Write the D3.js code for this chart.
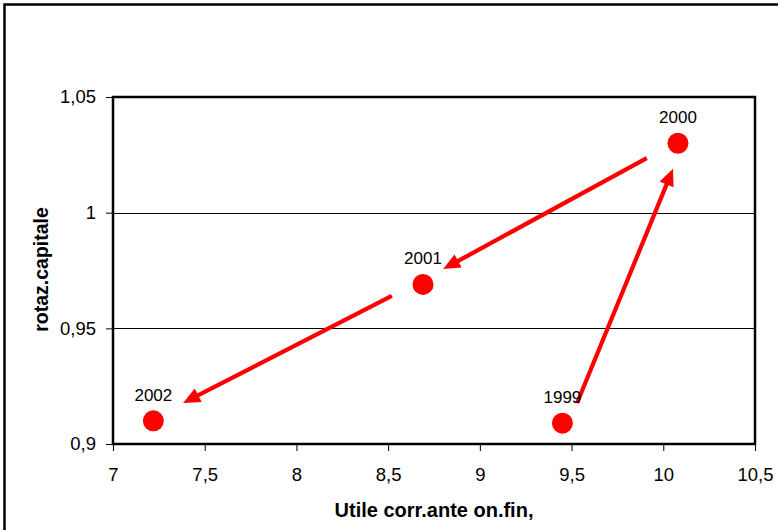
<!DOCTYPE html>
<html>
<head>
<meta charset="utf-8">
<script src="https://cdn.jsdelivr.net/npm/d3@7"></script>
<style>
  html, body { margin: 0; padding: 0; background: #fff; }
  svg { display: block; }
  text { font-family: Arial, "Liberation Sans", sans-serif; fill: #000; }
</style>
</head>
<body>
<svg id="chart" width="778" height="530"></svg>
<script>
// Yearly points: profit before financial charges vs. capital turnover
const years = ["1999", "2000", "2001", "2002"];
const utile = [9.45, 10.08, 8.69, 7.22];
const rotaz = [0.909, 1.03, 0.969, 0.91];

// Arrows showing the path from year to year (data coordinates)
const arrowFromX = [9.53, 9.91, 8.52];
const arrowFromY = [0.9177, 1.0236, 0.964];
const arrowToX = [10.053, 8.80, 7.382];
const arrowToY = [1.019, 0.9756, 0.9177];

const xTicks = [7, 7.5, 8, 8.5, 9, 9.5, 10, 10.5];
const yTicks = [0.9, 0.95, 1, 1.05];

const xTitle = "Utile corr.ante on.fin,";
const yTitle = "rotaz.capitale";

const svg = d3.select("#chart");
const W = 778, H = 530;
const m = { left: 113, top: 97, right: 778 - 755, bottom: 530 - 444 };
const iw = W - m.left - m.right, ih = H - m.top - m.bottom;

const fmt = d => String(d).replace(".", ",");

// outer chart frame
svg.append("rect")
  .attr("x", 4.5).attr("y", 4.5).attr("width", 790).attr("height", 540)
  .attr("fill", "#fff").attr("stroke", "#000").attr("stroke-width", 2.5);

const x = d3.scaleLinear().domain([7, 10.5]).range([0, iw]);
const y = d3.scaleLinear().domain([0.9, 1.05]).range([ih, 0]);

const g = svg.append("g").attr("transform", `translate(${m.left},${m.top})`);

// horizontal gridlines
g.append("g")
  .selectAll("line")
  .data(yTicks.filter(t => t > 0.9 && t < 1.05))
  .join("line")
  .attr("x1", 0).attr("x2", iw)
  .attr("y1", d => Math.round(y(d)) + 0.5).attr("y2", d => Math.round(y(d)) + 0.5)
  .attr("stroke", "#000").attr("stroke-width", 1);

// axes
const xAxis = g.append("g")
  .attr("transform", `translate(0,${ih})`)
  .call(d3.axisBottom(x).tickValues(xTicks).tickFormat(fmt).tickSize(7).tickPadding(17));
const yAxis = g.append("g")
  .call(d3.axisLeft(y).tickValues(yTicks).tickFormat(fmt).tickSize(7).tickPadding(10));
[xAxis, yAxis].forEach(a => {
  a.select(".domain").remove();
  a.selectAll("line").attr("stroke", "#000").attr("stroke-width", 1);
  a.selectAll("text").style("font-size", "18.5px")
    .style("font-family", "Arial, 'Liberation Sans', sans-serif").attr("fill", "#000");
});

// plot area border
g.append("rect")
  .attr("x", 0).attr("y", 0).attr("width", iw).attr("height", ih)
  .attr("fill", "none").attr("stroke", "#000").attr("stroke-width", 2.5);

// arrows
const red = "#ff0000";
const headLen = 17, headHalf = 7.5;
const arrows = arrowFromX.map((fx, i) => ({
  x1: x(fx), y1: y(arrowFromY[i]), x2: x(arrowToX[i]), y2: y(arrowToY[i])
}));
const ag = g.append("g");
arrows.forEach(a => {
  const dx = a.x2 - a.x1, dy = a.y2 - a.y1;
  const len = Math.hypot(dx, dy);
  const ux = dx / len, uy = dy / len;
  const bx = a.x2 - ux * headLen, by = a.y2 - uy * headLen;
  ag.append("line")
    .attr("x1", a.x1).attr("y1", a.y1)
    .attr("x2", bx + ux * 2).attr("y2", by + uy * 2)
    .attr("stroke", red).attr("stroke-width", 4.2);
  ag.append("path")
    .attr("d", d3.line()([
      [a.x2, a.y2],
      [bx - uy * headHalf, by + ux * headHalf],
      [bx + uy * headHalf, by - ux * headHalf]
    ]) + "Z")
    .attr("fill", red);
});

// points
g.append("g")
  .selectAll("circle")
  .data(years)
  .join("circle")
  .attr("cx", (d, i) => x(utile[i]))
  .attr("cy", (d, i) => y(rotaz[i]))
  .attr("r", 10.5)
  .attr("fill", red);

// year labels
g.append("g")
  .selectAll("text")
  .data(years)
  .join("text")
  .attr("x", (d, i) => x(utile[i]))
  .attr("y", (d, i) => y(rotaz[i]) - 20)
  .attr("text-anchor", "middle")
  .style("font-size", "17px")
  .text(d => d);

// axis titles
svg.append("text")
  .attr("x", m.left + iw / 2)
  .attr("y", 517)
  .attr("text-anchor", "middle")
  .style("font-size", "20px").style("font-weight", "bold")
  .text(xTitle);

svg.append("text")
  .attr("transform", `translate(48,${m.top + ih / 2 - 1}) rotate(-90)`)
  .attr("text-anchor", "middle")
  .style("font-size", "19.5px").style("font-weight", "bold")
  .text(yTitle);
</script>
</body>
</html>
